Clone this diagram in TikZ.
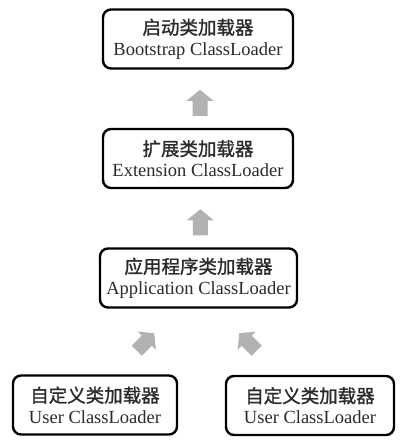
\documentclass[tikz,border=0pt]{standalone}
\usepackage{fontspec}
\setmainfont{Liberation Serif}
\newfontfamily\cjk[AutoFakeBold=1.2]{Noto Sans CJK SC}
\usetikzlibrary{calc}
\definecolor{arrowgray}{HTML}{B2B2B2}
\definecolor{textgray}{HTML}{2B2B2B}
\tikzset{
  loaderbox/.style={draw=black, line width=2.4pt, rounded corners=8pt,
    fill=white, minimum height=59pt, inner sep=0pt, align=center,
    text=textgray, font=\fontsize{18.5}{21}\selectfont},
  blockarrow/.pic={
    \fill[arrowgray] (-7.5pt,-13pt) -- (-7.5pt,2pt) -- (-13.5pt,2pt) -- (0pt,13pt)
      -- (13.5pt,2pt) -- (7.5pt,2pt) -- (7.5pt,-13pt) -- cycle;
  }
}
\begin{document}
\begin{tikzpicture}[x=1pt,y=1pt]
\useasboundingbox[fill=white] (0,0) rectangle (402,-440);
\node[loaderbox, minimum width=190pt] (boot) at (198,-39)
  {{\cjk\bfseries 启动类加载器}\\Bootstrap ClassLoader};
\node[loaderbox, minimum width=190pt] (ext) at (198,-158.5)
  {{\cjk\bfseries 扩展类加载器}\\Extension ClassLoader};
\node[loaderbox, minimum width=197pt] (app) at (198.5,-278)
  {{\cjk\bfseries 应用程序类加载器}\\Application ClassLoader};
\node[loaderbox, minimum width=164pt] (userL) at (95,-405)
  {{\cjk\bfseries 自定义类加载器}\\User ClassLoader};
\node[loaderbox, minimum width=168pt] (userR) at (310,-405.5)
  {{\cjk\bfseries 自定义类加载器}\\User ClassLoader};
\coordinate (m1) at ($(boot.south)!0.57!(ext.north)+(2,0)$);
\coordinate (m2) at ($(ext.south)!0.57!(app.north)+(2,0)$);
\coordinate (m3) at (145.5,-342);
\coordinate (m4) at (248,-342);
\pic at (m1) {blockarrow};
\pic at (m2) {blockarrow};
\pic[rotate=-45, scale=0.95] at (m3) {blockarrow};
\pic[rotate=45, scale=0.95] at (m4) {blockarrow};
\end{tikzpicture}
\end{document}
